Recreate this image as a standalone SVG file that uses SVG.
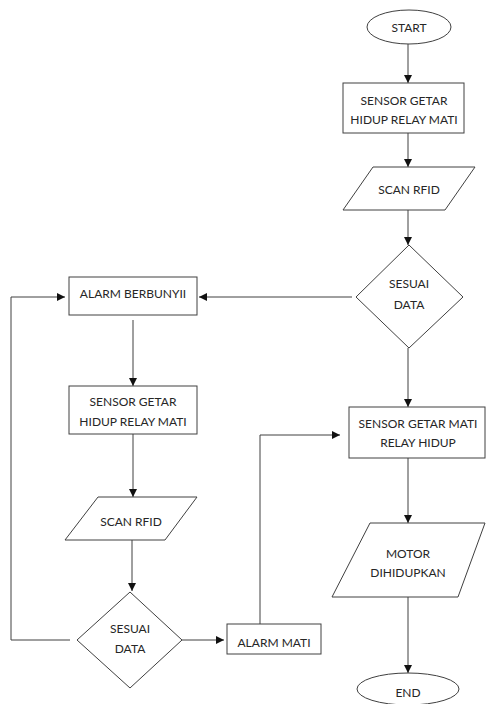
<svg xmlns="http://www.w3.org/2000/svg" width="486" height="704" viewBox="0 0 486 704">
<style>
.s{fill:#fff;stroke:#404040;stroke-width:1}
.t{font-family:Lato,"Open Sans",sans-serif;font-size:12px;fill:#262626;text-anchor:middle;dominant-baseline:central}
.c{fill:none;stroke:#404040;stroke-width:1}
.a{marker-end:url(#ah)}
</style>
<defs>
<marker id="ah" viewBox="0 0 10 10" refX="10" refY="5" markerWidth="8" markerHeight="8" markerUnits="userSpaceOnUse" orient="auto">
<path d="M0,0 L10,5 L0,10 Z" fill="#111"/>
</marker>
</defs>
<rect width="486" height="704" fill="#fff"/>
<g id="connectors">
<line class="c a" x1="408" y1="44" x2="408" y2="83"/>
<line class="c a" x1="408" y1="133" x2="408" y2="167"/>
<line class="c a" x1="408" y1="210" x2="408" y2="245"/>
<line class="c a" x1="408" y1="348" x2="408" y2="407"/>
<line class="c a" x1="408" y1="458" x2="408" y2="523"/>
<line class="c a" x1="408" y1="597" x2="408" y2="673"/>
<line class="c a" x1="352" y1="297" x2="199" y2="297"/>
<line class="c a" x1="133" y1="320" x2="133" y2="386"/>
<line class="c a" x1="133" y1="434" x2="133" y2="497"/>
<line class="c a" x1="132" y1="540" x2="132" y2="591"/>
<polyline class="c a" points="70,640 11,640 11,297 65,297"/>
<line class="c a" x1="182" y1="640" x2="224" y2="640"/>
<polyline class="c a" points="260,624 260,435 340,435"/>
</g>
<g id="start">
<ellipse class="s" cx="409" cy="27" rx="42" ry="17"/>
<text class="t" x="409" y="27">START</text>
</g>
<g id="sensor1">
<rect class="s" x="343" y="83" width="121" height="50"/>
<text class="t" x="404" y="100">SENSOR GETAR</text>
<text class="t" x="404" y="119">HIDUP RELAY MATI</text>
</g>
<g id="scan1">
<polygon class="s" points="373,167 475,167 445,210 343,210"/>
<text class="t" x="409" y="189">SCAN RFID</text>
</g>
<g id="sesuai1">
<polygon class="s" points="409,245 463,297 409,348 356,297"/>
<text class="t" x="409" y="283">SESUAI</text>
<text class="t" x="409" y="304">DATA</text>
</g>
<g id="sensor-mati">
<rect class="s" x="349" y="407" width="136" height="51"/>
<text class="t" x="418" y="423">SENSOR GETAR MATI</text>
<text class="t" x="418" y="442">RELAY HIDUP</text>
</g>
<g id="motor">
<polygon class="s" points="370,523 485,523 458,597 332,597"/>
<text class="t" x="408" y="553">MOTOR</text>
<text class="t" x="408" y="572">DIHIDUPKAN</text>
</g>
<g id="end">
<ellipse class="s" cx="408" cy="689" rx="51" ry="16"/>
<text class="t" x="408" y="692">END</text>
</g>
<g id="alarm-berbunyi">
<rect class="s" x="69" y="277" width="128" height="38"/>
<text class="t" x="133" y="293">ALARM BERBUNYII</text>
</g>
<g id="sensor2">
<rect class="s" x="69" y="386" width="128" height="48"/>
<text class="t" x="133" y="401">SENSOR GETAR</text>
<text class="t" x="133" y="421">HIDUP RELAY MATI</text>
</g>
<g id="scan2">
<polygon class="s" points="98,497 197,497 165,540 65,540"/>
<text class="t" x="131" y="521">SCAN RFID</text>
</g>
<g id="sesuai2">
<polygon class="s" points="130,592 182,640 130,688 77,640"/>
<text class="t" x="130" y="628">SESUAI</text>
<text class="t" x="130" y="648">DATA</text>
</g>
<g id="alarm-mati">
<rect class="s" x="227" y="624" width="94" height="30"/>
<text class="t" x="274" y="642">ALARM MATI</text>
</g>
</svg>
